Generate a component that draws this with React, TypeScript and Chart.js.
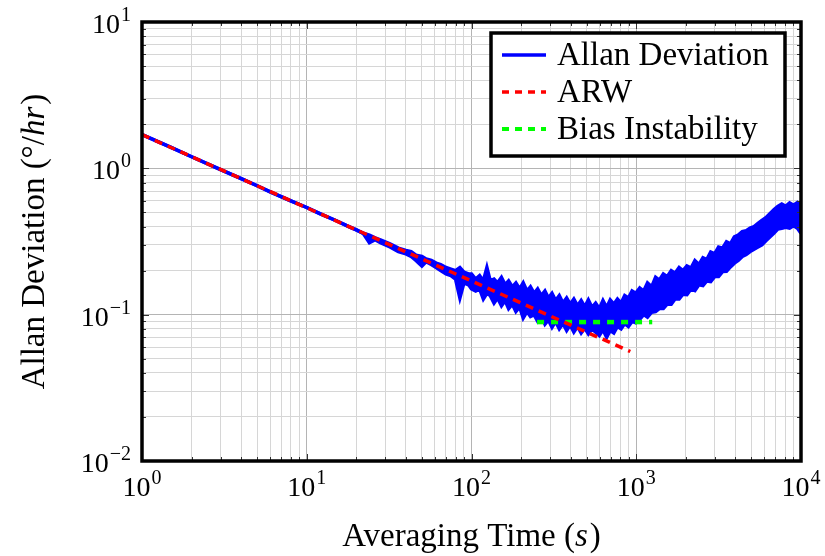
import React, { useEffect, useRef } from "react";
import { Chart, registerables } from "chart.js";

Chart.register(...registerables);

// ---- data ----
const tau = [
  1, 1.5, 2, 3, 4, 5, 6, 8, 10, 12, 15, 18, 20, 22, 24, 26, 28, 32, 36,
  40, 43, 46, 50, 53, 57, 61, 65, 70, 75, 80, 85, 90, 96,
  100, 106, 112, 118, 124, 130, 137, 144, 152, 160,
  168, 177, 186, 196, 206, 217, 228, 240, 252, 265,
  279, 293, 308, 324, 341, 359, 378, 397, 418, 440,
  463, 487, 512, 539, 567, 597, 628, 661, 695, 731,
  769, 809, 851, 896, 943, 992,
  1050, 1110, 1170, 1240, 1310, 1380, 1460, 1540, 1630, 1720,
  1820, 1920, 2030, 2150, 2270, 2400, 2540, 2680, 2830, 2990,
  3160, 3340, 3530, 3730, 3940, 4160, 4400, 4650, 4910, 5190,
  5480, 5790, 6120, 6470, 6840, 7230, 7640, 8070, 8530, 9010,
  9520, 10000,
];
const adevHigh = [
  1.70, 1.39, 1.20, 0.98, 0.85, 0.76, 0.69, 0.60, 0.54, 0.49, 0.44, 0.40, 0.38, 0.36, 0.35, 0.335, 0.325, 0.305, 0.285,
  0.275, 0.27, 0.255, 0.25, 0.24, 0.235, 0.225, 0.22, 0.21, 0.205, 0.20, 0.21, 0.195, 0.19,
  0.19, 0.175, 0.185, 0.17, 0.21, 0.17, 0.175, 0.165, 0.18, 0.16,
  0.17, 0.155, 0.165, 0.15, 0.165, 0.145, 0.155, 0.14, 0.15, 0.135,
  0.145, 0.13, 0.14, 0.125, 0.135, 0.12, 0.13, 0.118, 0.128, 0.115,
  0.125, 0.113, 0.126, 0.112, 0.12, 0.11, 0.125, 0.112, 0.126, 0.118,
  0.128, 0.12, 0.135, 0.13, 0.145, 0.14,
  0.152, 0.145, 0.165, 0.155, 0.18, 0.172, 0.19, 0.182, 0.2, 0.192,
  0.21, 0.2, 0.215, 0.208, 0.234, 0.22, 0.245, 0.238, 0.268, 0.26,
  0.29, 0.285, 0.315, 0.305, 0.34, 0.35, 0.37, 0.375, 0.39, 0.40,
  0.42, 0.44, 0.46, 0.49, 0.52, 0.55, 0.57, 0.55, 0.58, 0.56,
  0.585, 0.56,
];
const adevLow = [
  1.70, 1.39, 1.20, 0.98, 0.85, 0.76, 0.69, 0.60, 0.54, 0.49, 0.44, 0.40, 0.38, 0.36, 0.31, 0.325, 0.31, 0.29, 0.27,
  0.26, 0.25, 0.235, 0.215, 0.23, 0.22, 0.21, 0.20, 0.19, 0.185, 0.175, 0.13, 0.165, 0.16,
  0.15, 0.145, 0.15, 0.128, 0.14, 0.135, 0.12, 0.13, 0.115, 0.125,
  0.11, 0.118, 0.105, 0.113, 0.095, 0.105, 0.097, 0.10, 0.09, 0.097,
  0.086, 0.092, 0.082, 0.09, 0.08, 0.087, 0.078, 0.085, 0.076, 0.083,
  0.075, 0.081, 0.074, 0.08, 0.076, 0.072, 0.079, 0.07, 0.078, 0.075,
  0.083, 0.08, 0.087, 0.083, 0.09, 0.088,
  0.093, 0.1, 0.096, 0.104, 0.105, 0.11, 0.11, 0.118, 0.118, 0.128,
  0.128, 0.138, 0.137, 0.15, 0.146, 0.16, 0.158, 0.17, 0.168, 0.182,
  0.182, 0.197, 0.198, 0.212, 0.225, 0.235, 0.25, 0.258, 0.27, 0.28,
  0.29, 0.30, 0.32, 0.34, 0.36, 0.385, 0.39, 0.395, 0.39, 0.405,
  0.39, 0.36,
];
const arwTau = [1, 920];
const arwValues = [1.7, 0.056];
const biasTau = [250, 1250];
const biasValues = [0.089, 0.089];
const xTickExponents = [0, 1, 2, 3, 4];
const yTickExponents = [-2, -1, 0, 1];
const legendLabels = ["Allan Deviation", "ARW", "Bias Instability"];
const xTitle = ["Averaging Time (", "s", ")"];
const yTitle = ["Allan Deviation (°/", "hr", ")"];

const BLUE = "#0000ff";
const RED = "#ff0000";
const GREEN = "#00ff00";
const SERIF = '"Liberation Serif", "DejaVu Serif", serif';

function logTicks(min: number, max: number) {
  const out: { value: number }[] = [];
  for (let e = Math.round(Math.log10(min)); e <= Math.round(Math.log10(max)); e++) {
    for (let m = 1; m <= 9; m++) {
      const v = m * Math.pow(10, e);
      if (v >= min * 0.999 && v <= max * 1.001) out.push({ value: v });
    }
  }
  return out;
}
const isDecade = (v: number) => Math.abs(Math.log10(v) - Math.round(Math.log10(v))) < 1e-6;
const sup = (e: number) => (e < 0 ? "\u2212" + Math.abs(e) : String(e));

function drawPow(ctx: CanvasRenderingContext2D, e: number, x: number, y: number, align: "center" | "right") {
  ctx.font = `28px ${SERIF}`;
  const w1 = ctx.measureText("10").width;
  ctx.font = `20px ${SERIF}`;
  const w2 = ctx.measureText(sup(e)).width;
  const total = w1 + w2 + 1;
  const x0 = align === "center" ? x - total / 2 : x - total;
  ctx.textAlign = "left";
  ctx.textBaseline = "alphabetic";
  ctx.fillStyle = "#000";
  ctx.font = `28px ${SERIF}`;
  ctx.fillText("10", x0, y);
  ctx.font = `20px ${SERIF}`;
  ctx.fillText(sup(e), x0 + w1 + 1, y - 12);
}

function drawTitle(ctx: CanvasRenderingContext2D, parts: string[], cx: number, baseline: number) {
  const fonts = [`33px ${SERIF}`, `italic 33px ${SERIF}`, `33px ${SERIF}`];
  const widths = parts.map((p, i) => {
    ctx.font = fonts[i];
    return ctx.measureText(p).width;
  });
  const total = widths.reduce((a, b) => a + b, 0) + 2;
  let x = cx - total / 2;
  ctx.textAlign = "left";
  ctx.textBaseline = "alphabetic";
  ctx.fillStyle = "#000";
  parts.forEach((p, i) => {
    ctx.font = fonts[i];
    ctx.fillText(p, x, baseline);
    x += widths[i] + (i === 1 ? 2 : 0);
  });
}

const decorPlugin = {
  id: "decor",
  afterDraw(chart: any) {
    const ctx: CanvasRenderingContext2D = chart.ctx;
    const { left, right, top, bottom } = chart.chartArea;
    const xs = chart.scales.x;
    const ys = chart.scales.y;
    ctx.save();
    ctx.strokeStyle = "#333";
    ctx.lineWidth = 1;
    xs.ticks.forEach((t: any) => {
      const px = Math.round(xs.getPixelForValue(t.value)) + 0.5;
      const len = isDecade(t.value) ? 7 : 4;
      ctx.beginPath();
      ctx.moveTo(px, bottom);
      ctx.lineTo(px, bottom - len);
      ctx.moveTo(px, top);
      ctx.lineTo(px, top + len);
      ctx.stroke();
    });
    ys.ticks.forEach((t: any) => {
      const py = Math.round(ys.getPixelForValue(t.value)) + 0.5;
      const len = isDecade(t.value) ? 7 : 4;
      ctx.beginPath();
      ctx.moveTo(left, py);
      ctx.lineTo(left + len, py);
      ctx.moveTo(right, py);
      ctx.lineTo(right - len, py);
      ctx.stroke();
    });
    ctx.strokeStyle = "#000";
    ctx.lineWidth = 3.5;
    ctx.strokeRect(left, top, right - left, bottom - top);

    xTickExponents.forEach((e) => {
      drawPow(ctx, e, xs.getPixelForValue(Math.pow(10, e)), bottom + 35, "center");
    });
    yTickExponents.forEach((e) => {
      drawPow(ctx, e, left - 11, ys.getPixelForValue(Math.pow(10, e)) + 11, "right");
    });

    drawTitle(ctx, xTitle, (left + right) / 2, bottom + 85);
    ctx.save();
    ctx.translate(44, (top + bottom) / 2);
    ctx.rotate(-Math.PI / 2);
    drawTitle(ctx, yTitle, 0, 0);
    ctx.restore();

    const bx = 491, by = 33, bw = 294, bh = 123;
    ctx.fillStyle = "#fff";
    ctx.fillRect(bx, by, bw, bh);
    ctx.strokeStyle = "#000";
    ctx.lineWidth = 3.5;
    ctx.strokeRect(bx, by, bw, bh);
    const rows = [55, 92, 129];
    const colors = [BLUE, RED, GREEN];
    const dashes = [[], [7, 6], [7, 6]];
    rows.forEach((ry, i) => {
      ctx.beginPath();
      ctx.setLineDash(dashes[i]);
      ctx.strokeStyle = colors[i];
      ctx.lineWidth = i === 2 ? 4 : 3.5;
      ctx.moveTo(502, ry);
      ctx.lineTo(546, ry);
      ctx.stroke();
      ctx.setLineDash([]);
      ctx.fillStyle = "#000";
      ctx.font = `33px ${SERIF}`;
      ctx.textAlign = "left";
      ctx.textBaseline = "middle";
      ctx.fillText(legendLabels[i], 557, ry + 1);
    });
    ctx.restore();
  },
};

export default function App() {
  const ref = useRef<HTMLCanvasElement>(null);
  useEffect(() => {
    if (!ref.current) return;
    const pts = (xs: number[], ys: number[]) => xs.map((x, i) => ({ x, y: ys[i] }));
    const gridColor = (c: any) => (c.tick && isDecade(c.tick.value) ? "#b4b4b4" : "#d6d6d6");
    const chart = new Chart(ref.current, {
      type: "line",
      data: {
        datasets: [
          {
            label: "ARW",
            data: pts(arwTau, arwValues),
            borderColor: RED,
            borderWidth: 3.5,
            borderDash: [8, 6],
            pointRadius: 0,
            fill: false,
            order: 0,
          },
          {
            label: "Bias Instability",
            data: pts(biasTau, biasValues),
            borderColor: GREEN,
            borderWidth: 4.5,
            borderDash: [7, 7],
            pointRadius: 0,
            fill: false,
            order: 1,
          },
          {
            label: "Allan Deviation",
            data: pts(tau, adevHigh),
            borderColor: BLUE,
            backgroundColor: BLUE,
            borderWidth: 3.5,
            pointRadius: 0,
            fill: "+1",
            order: 2,
          },
          {
            label: "Allan Deviation low",
            data: pts(tau, adevLow),
            borderColor: BLUE,
            borderWidth: 3.5,
            pointRadius: 0,
            fill: false,
            order: 3,
          },
        ],
      },
      options: {
        animation: false,
        responsive: false,
        devicePixelRatio: 1,
        layout: { padding: { left: 142, right: 24, top: 22, bottom: 95 } },
        plugins: { legend: { display: false }, tooltip: { enabled: false } },
        scales: {
          x: {
            type: "logarithmic",
            min: 1,
            max: 10000,
            afterBuildTicks: (s: any) => {
              s.ticks = logTicks(1, 10000);
            },
            ticks: { display: false },
            grid: { color: gridColor, lineWidth: 1, drawTicks: false },
            border: { display: false },
          },
          y: {
            type: "logarithmic",
            min: 0.01,
            max: 10,
            afterBuildTicks: (s: any) => {
              s.ticks = logTicks(0.01, 10);
            },
            ticks: { display: false },
            grid: { color: gridColor, lineWidth: 1, drawTicks: false },
            border: { display: false },
          },
        },
      },
      plugins: [decorPlugin],
    } as any);
    return () => chart.destroy();
  }, []);
  return (
    <div style={{ position: "fixed", left: 0, top: 0, width: 825, height: 556, background: "#fff" }}>
      <canvas ref={ref} width={825} height={556} />
    </div>
  );
}
